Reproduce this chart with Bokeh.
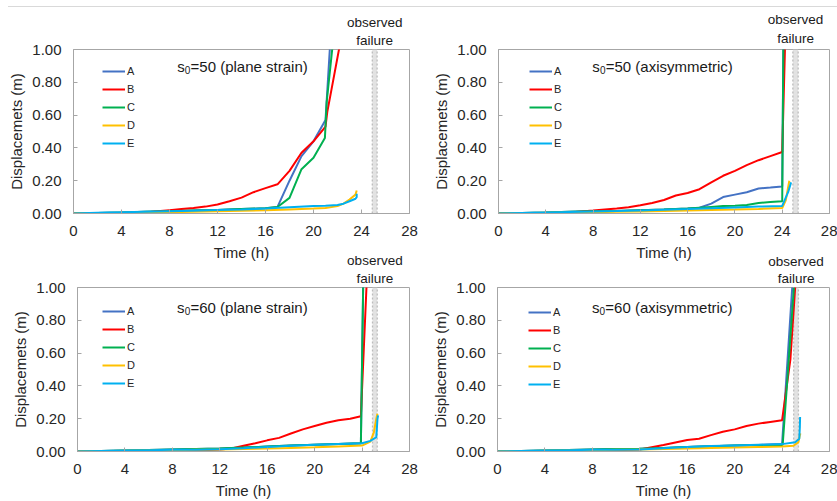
from bokeh.plotting import figure
from bokeh.layouts import column, row
from bokeh.models import Range1d, FixedTicker, NumeralTickFormatter, Label, Div, Title
from bokeh.embed import file_html
from bokeh.resources import INLINE

FONT = "Liberation Sans"
SERIES = ["A", "B", "C", "D", "E"]
COLORS = ["#4472C4", "#FF0000", "#00B050", "#FFC000", "#00B0F0"]
X_TICKS = [0, 4, 8, 12, 16, 20, 24, 28]
Y_TICKS = [0.0, 0.2, 0.4, 0.6, 0.8, 1.0]
X_LIMITS = [0, 28]
Y_LIMITS = [0, 1]

# ---- panel 1: s0=50 (plane strain) ----
p1_t_A = [0, 2, 4, 6, 8, 10, 12, 14, 16, 17, 18, 19, 20, 21, 21.4]
p1_A = [0, 0.003, 0.006, 0.01, 0.014, 0.018, 0.022, 0.027, 0.032, 0.04, 0.2, 0.35, 0.44, 0.57, 1.05]
p1_t_B = [0, 2, 4, 5, 6, 7, 8, 9, 10, 11, 12, 13, 14, 15, 16, 17, 18, 19, 20, 21, 21.15, 22.2]
p1_B = [0, 0, -0.002, 0, 0.006, 0.013, 0.02, 0.027, 0.034, 0.042, 0.055, 0.075, 0.097, 0.13, 0.155, 0.178,
        0.26, 0.37, 0.44, 0.53, 0.62, 1.03]
p1_t_C = [0, 2, 4, 6, 8, 10, 12, 14, 16, 17, 18, 19, 20, 20.95, 21.1, 21.6]
p1_C = [0, 0.003, 0.006, 0.01, 0.014, 0.018, 0.022, 0.027, 0.032, 0.04, 0.095, 0.27, 0.34, 0.46, 0.68, 1.03]
p1_t_D = [0, 2, 4, 6, 8, 10, 12, 14, 16, 18, 20, 21, 22, 22.5, 23, 23.5, 23.6]
p1_D = [0, 0.002, 0.004, 0.006, 0.008, 0.011, 0.014, 0.017, 0.02, 0.025, 0.03, 0.033, 0.045, 0.06, 0.085, 0.115, 0.14]
p1_t_E = [0, 2, 4, 6, 8, 10, 12, 14, 16, 18, 20, 21, 22, 22.5, 23, 23.5, 23.6, 23.6]
p1_E = [0, 0.004, 0.008, 0.011, 0.014, 0.017, 0.021, 0.025, 0.03, 0.038, 0.045, 0.048, 0.052, 0.06, 0.075, 0.09, 0.1, 0.12]

# ---- panel 2: s0=50 (axisymmetric) ----
p2_t_A = [0, 2, 4, 6, 8, 10, 12, 14, 16, 17, 18, 19, 20, 21, 22, 23, 24, 24.1]
p2_A = [0, 0.003, 0.006, 0.01, 0.013, 0.016, 0.02, 0.024, 0.03, 0.035, 0.06, 0.1, 0.115, 0.13, 0.152, 0.158, 0.165, 1.05]
p2_t_B = [0, 2, 4, 5, 6, 7, 8, 9, 10, 11, 12, 13, 14, 15, 16, 17, 18, 19, 20, 21, 22, 23, 24, 24.25]
p2_B = [0, 0, -0.003, 0, 0.006, 0.012, 0.018, 0.025, 0.03, 0.038, 0.05, 0.064, 0.082, 0.11, 0.125, 0.148,
        0.19, 0.23, 0.26, 0.295, 0.325, 0.35, 0.375, 1.05]
p2_t_C = [0, 2, 4, 6, 8, 10, 12, 14, 16, 17, 18, 19, 20, 21, 22, 23, 24, 24.1]
p2_C = [0, 0.003, 0.006, 0.01, 0.013, 0.016, 0.02, 0.024, 0.03, 0.035, 0.04, 0.045, 0.048, 0.052, 0.064, 0.07, 0.075, 1.05]
p2_t_D = [0, 2, 4, 6, 8, 10, 12, 14, 16, 18, 20, 22, 24, 24.3, 24.6]
p2_D = [0, 0.002, 0.004, 0.006, 0.008, 0.01, 0.012, 0.015, 0.018, 0.021, 0.024, 0.028, 0.033, 0.08, 0.2]
p2_t_E = [0, 2, 4, 6, 8, 10, 12, 14, 16, 18, 20, 22, 24, 24.5, 24.75]
p2_E = [0, 0.003, 0.006, 0.009, 0.012, 0.015, 0.019, 0.023, 0.027, 0.032, 0.037, 0.042, 0.046, 0.13, 0.19]

# ---- panel 3: s0=60 (plane strain) ----
p3_t_A = [0, 2, 4, 6, 8, 10, 12, 14, 16, 18, 20, 22, 23.9, 24.1]
p3_A = [0, 0.003, 0.006, 0.009, 0.012, 0.015, 0.018, 0.024, 0.03, 0.036, 0.041, 0.046, 0.05, 1.05]
p3_t_B = [0, 2, 4, 6, 8, 10, 12, 13, 14, 15, 16, 17, 18, 19, 20, 21, 22, 23, 23.9, 24.4]
p3_B = [0, 0, -0.003, -0.003, 0, 0.006, 0.012, 0.018, 0.035, 0.05, 0.068, 0.083, 0.11, 0.135, 0.155,
        0.175, 0.19, 0.2, 0.215, 1.05]
p3_t_C = [0, 2, 4, 6, 8, 10, 12, 14, 16, 18, 20, 22, 23.9, 24.1]
p3_C = [0, 0.003, 0.006, 0.009, 0.012, 0.015, 0.018, 0.024, 0.03, 0.036, 0.041, 0.046, 0.05, 1.05]
p3_t_D = [0, 2, 4, 6, 8, 10, 12, 14, 16, 18, 20, 22, 24, 24.7, 25.0, 25.2, 25.3]
p3_D = [0, 0.002, 0.004, 0.006, 0.008, 0.01, 0.012, 0.015, 0.018, 0.022, 0.026, 0.031, 0.036, 0.06, 0.118, 0.2, 0.23]
p3_t_E = [0, 2, 4, 6, 8, 10, 12, 14, 16, 18, 20, 22, 24, 24.7, 25.2, 25.3, 25.35]
p3_E = [0, 0.003, 0.006, 0.008, 0.01, 0.011, 0.013, 0.02, 0.028, 0.035, 0.041, 0.046, 0.05, 0.065, 0.087, 0.2, 0.22]

# ---- panel 4: s0=60 (axisymmetric) ----
p4_t_A = [0, 2, 4, 6, 8, 10, 12, 14, 16, 18, 20, 22, 24, 24.9]
p4_A = [0, 0.003, 0.006, 0.009, 0.012, 0.015, 0.017, 0.022, 0.027, 0.032, 0.036, 0.04, 0.045, 1.05]
p4_t_B = [0, 2, 4, 6, 8, 10, 12, 13, 14, 15, 16, 17, 18, 19, 20, 21, 22, 23, 24, 24.7, 25.15]
p4_B = [0, 0, -0.003, -0.002, 0.003, 0.007, 0.012, 0.026, 0.04, 0.055, 0.07, 0.078, 0.1, 0.12, 0.135,
        0.155, 0.17, 0.18, 0.19, 0.56, 1.05]
p4_t_C = [0, 2, 4, 6, 8, 10, 12, 14, 16, 18, 20, 22, 24.05, 25.0]
p4_C = [0, 0.003, 0.006, 0.009, 0.012, 0.015, 0.017, 0.022, 0.027, 0.032, 0.036, 0.04, 0.04, 1.0]
p4_t_D = [0, 2, 4, 6, 8, 10, 12, 14, 16, 18, 20, 22, 24, 24.96, 25.38, 25.5, 25.55]
p4_D = [0, 0.002, 0.004, 0.006, 0.008, 0.01, 0.012, 0.015, 0.018, 0.021, 0.024, 0.027, 0.03, 0.035, 0.057, 0.1, 0.11]
p4_t_E = [0, 2, 4, 6, 8, 10, 12, 14, 16, 18, 20, 22, 24, 25.1, 25.45, 25.5, 25.52]
p4_E = [0, 0.003, 0.006, 0.008, 0.01, 0.011, 0.012, 0.02, 0.028, 0.033, 0.037, 0.041, 0.045, 0.057, 0.078, 0.15, 0.21]

# observed failure time band (h) per panel
p1_failure = [24.9, 25.3]
p2_failure = [24.9, 25.35]
p3_failure = [24.88, 25.28]
p4_failure = [24.98, 25.38]

titles_s0 = ["50", "50", "60", "60"]
titles_mode = ["(plane strain)", "(axisymmetric)", "(plane strain)", "(axisymmetric)"]
failure_words = ["observed", "failure"]

FAIL_FONT_PX = 13.5
# approximate advance widths (em) of the failure words in Liberation Sans
WORD_EM = {"observed": 4.113, "failure": 2.723}


def make_panel(series, failure, s0, mode, width, height, borders, legend_loc, title_pos, fail_standoffs,
               transparent=False):
    left, right, top, bottom = borders
    p = figure(width=width, height=height, x_range=Range1d(*X_LIMITS), y_range=Range1d(*Y_LIMITS),
               output_backend="svg", toolbar_location=None, title=None,
               min_border_left=left, min_border_right=right, min_border_top=top, min_border_bottom=bottom)
    p.background_fill_color = "white"
    p.border_fill_color = None if transparent else "white"
    p.outline_line_color = "#A6A6A6"
    p.outline_line_width = 1
    p.grid.visible = False

    # observed failure band
    p.quad(left=[failure[0]], right=[failure[1]], bottom=[Y_LIMITS[0]], top=[Y_LIMITS[1]],
           fill_color="#E2E2E2", line_color=None)
    for xb in failure:
        p.segment(x0=[xb], y0=[Y_LIMITS[0]], x1=[xb], y1=[Y_LIMITS[1]],
                  line_color="#BDBDBD", line_width=1.3, line_dash="2 2")

    for name, color, (t, d) in zip(SERIES, COLORS, series):
        p.line(t, d, line_color=color, line_width=2, legend_label=name)

    for ax in (p.xaxis[0], p.yaxis[0]):
        ax.axis_line_color = "#A6A6A6"
        ax.major_tick_line_color = "#A6A6A6"
        ax.major_tick_in = 4
        ax.major_tick_out = 0
        ax.minor_tick_line_color = None
        ax.major_label_text_font = FONT
        ax.major_label_text_font_size = "15px"
        ax.major_label_text_color = "#262626"
        ax.axis_label_text_font = FONT
        ax.axis_label_text_font_size = "15px"
        ax.axis_label_text_font_style = "normal"
        ax.axis_label_text_color = "#262626"
    p.xaxis.ticker = FixedTicker(ticks=X_TICKS)
    p.yaxis.ticker = FixedTicker(ticks=Y_TICKS)
    p.yaxis.formatter = NumeralTickFormatter(format="0.00")
    p.xaxis.axis_label = "Time (h)"
    p.yaxis.axis_label = "Displacemets (m)"
    p.xaxis.major_label_standoff = 12
    p.xaxis.axis_label_standoff = 5
    p.yaxis.major_label_standoff = 12
    p.yaxis.axis_label_standoff = 4

    lg = p.legend[0]
    lg.location = legend_loc
    lg.padding = 0
    lg.margin = 0
    lg.spacing = 4
    lg.glyph_height = 14
    lg.glyph_width = 23
    lg.label_height = 14
    lg.label_standoff = 2
    lg.label_text_font = FONT
    lg.label_text_font_size = "11px"
    lg.label_text_color = "#262626"
    lg.border_line_color = None
    lg.background_fill_alpha = 0

    tx, ty = title_pos
    common = dict(text_font=FONT, text_color="#1a1a1a", text_baseline="alphabetic")
    p.add_layout(Label(x=tx, y=ty, text="s", text_font_size="15px", **common))
    p.add_layout(Label(x=tx, y=ty, x_offset=7.6, y_offset=-3, text="0", text_font_size="10px", **common))
    p.add_layout(Label(x=tx, y=ty, x_offset=13.4, text="=" + s0 + " " + mode, text_font_size="15px", **common))

    # "observed failure" text above the frame, centred on the failure band
    frame_w = width - left - right
    fx = (failure[0] + failure[1]) / 2
    cx = (fx - X_LIMITS[0]) / (X_LIMITS[1] - X_LIMITS[0]) * frame_w
    for word, so in zip(reversed(failure_words), fail_standoffs):
        half = WORD_EM[word] * FAIL_FONT_PX / 2
        p.add_layout(Title(text=word, align="left", offset=cx - half, standoff=so,
                           text_font=FONT, text_font_size=f"{FAIL_FONT_PX}px", text_font_style="normal",
                           text_color="#1a1a1a"), "above")
    return p


p1 = make_panel([(p1_t_A, p1_A), (p1_t_B, p1_B), (p1_t_C, p1_C), (p1_t_D, p1_D), (p1_t_E, p1_E)],
                p1_failure, titles_s0[0], titles_mode[0], 420, 257, (73, 11, 42, 51),
                (29, 63), (8.64, 0.894), (4, -2))
p2 = make_panel([(p2_t_A, p2_A), (p2_t_B, p2_B), (p2_t_C, p2_C), (p2_t_D, p2_D), (p2_t_E, p2_E)],
                p2_failure, titles_s0[1], titles_mode[1], 417, 257, (78, 8, 42, 51),
                (31, 63), (7.94, 0.894), (7, -3))
p3 = make_panel([(p3_t_A, p3_A), (p3_t_B, p3_B), (p3_t_C, p3_C), (p3_t_D, p3_D), (p3_t_E, p3_E)],
                p3_failure, titles_s0[2], titles_mode[2], 420, 252, (77, 11, 38, 50),
                (25, 61), (8.4, 0.878), (4, -2), transparent=True)
p4 = make_panel([(p4_t_A, p4_A), (p4_t_B, p4_B), (p4_t_C, p4_C), (p4_t_D, p4_D), (p4_t_E, p4_E)],
                p4_failure, titles_s0[3], titles_mode[3], 417, 252, (77, 8, 38, 50),
                (31, 60), (7.96, 0.878), (3, -3), transparent=True)

top_line = Div(text="", width=829, height=6, margin=(0, 0, 0, 8),
               styles={"border-bottom": "1px solid #D9D9D9", "box-sizing": "content-box"})
top_row = row(p1, p2, spacing=0)
bottom_row = row(p3, p4, spacing=0, margin=(-15, 0, 0, 0))
layout = column(top_line, top_row, bottom_row, spacing=0)

open("out.html", "w").write(file_html(layout, INLINE))
